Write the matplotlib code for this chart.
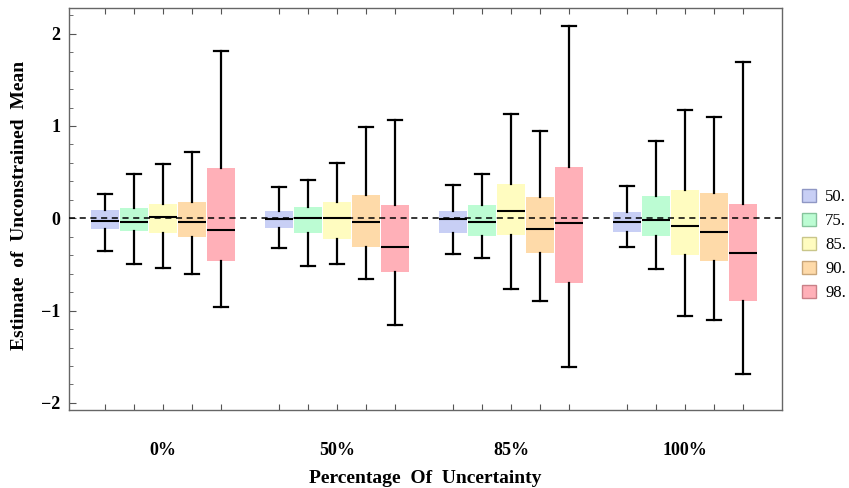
import matplotlib
matplotlib.use("Agg")
import matplotlib.pyplot as plt
from matplotlib.patches import Patch
from matplotlib.ticker import MultipleLocator
import matplotlib.transforms as mtransforms

groups = ["0%", "50%", "85%", "100%"]
series = ["50.", "75.", "85.", "90.", "98."]
colors = ["#c8cff5", "#bcfcd3", "#fffcc0", "#fedaa9", "#ffb0b8"]
edge_colors = ["#8f97c4", "#86c49c", "#c9c68a", "#c9a67a", "#c98088"]
y_ticks = [-2, -1, 0, 1, 2]
y_tick_labels = ["\u22122", "\u22121", "0", "1", "2"]

# [whisker_low, q1, median, q3, whisker_high] per group, per series
stats_0 = [[-0.35, -0.115, -0.03, 0.09, 0.26],
           [-0.50, -0.14, -0.04, 0.115, 0.48],
           [-0.54, -0.16, 0.015, 0.16, 0.59],
           [-0.60, -0.20, -0.04, 0.18, 0.72],
           [-0.96, -0.46, -0.13, 0.545, 1.81]]
stats_50 = [[-0.32, -0.10, -0.005, 0.08, 0.34],
            [-0.517, -0.156, 0.0, 0.12, 0.415],
            [-0.49, -0.22, 0.0, 0.177, 0.60],
            [-0.66, -0.314, -0.043, 0.25, 0.99],
            [-1.16, -0.58, -0.314, 0.144, 1.06]]
stats_85 = [[-0.387, -0.156, -0.008, 0.08, 0.36],
            [-0.427, -0.188, -0.037, 0.14, 0.483],
            [-0.766, -0.178, 0.076, 0.368, 1.127],
            [-0.90, -0.372, -0.116, 0.228, 0.946],
            [-1.61, -0.70, -0.054, 0.56, 2.087]]
stats_100 = [[-0.308, -0.152, -0.04, 0.072, 0.347],
             [-0.546, -0.192, -0.015, 0.242, 0.834],
             [-1.062, -0.398, -0.087, 0.307, 1.173],
             [-1.10, -0.459, -0.152, 0.271, 1.10],
             [-1.687, -0.893, -0.376, 0.152, 1.69]]
all_stats = [stats_0, stats_50, stats_85, stats_100]

serif = ["Liberation Serif", "DejaVu Serif"]
plt.rcParams["font.family"] = serif

fig = plt.figure(figsize=(8.49, 4.88), dpi=100)
ax = fig.add_axes([69 / 849, 1 - 410 / 488, (782 - 69) / 849, (410 - 8.3) / 488])

positions_all = []
for g, gstats in enumerate(all_stats):
    for i, (wl, q1, med, q3, wh) in enumerate(gstats):
        pos = g * 6 + i
        positions_all.append(pos)
        st = [dict(whislo=wl, q1=q1, med=med, q3=q3, whishi=wh, fliers=[])]
        ax.bxp(st, positions=[pos], widths=0.98, capwidths=0.5, patch_artist=True,
               showfliers=False,
               boxprops=dict(facecolor=colors[i], edgecolor="none", linewidth=0),
               medianprops=dict(color="black", linewidth=1.5),
               whiskerprops=dict(color="black", linewidth=1.6),
               capprops=dict(color="black", linewidth=1.6),
               zorder=2)

ax.axhline(0, color="black", linestyle=(0, (4, 3)), linewidth=1.1, zorder=3)

ax.set_xlim(-1.24, 23.34)
ax.set_ylim(-2.077, 2.275)

ax.set_xticks(positions_all)
ax.set_xticklabels([])
ax.tick_params(axis="x", which="both", direction="in", top=True, bottom=True,
               length=4, width=0.8, color="#555555")
ax.set_yticks(y_ticks)
ax.set_yticklabels(y_tick_labels, fontweight="bold", fontsize=13)
ax.yaxis.set_minor_locator(MultipleLocator(0.2))
ax.tick_params(axis="y", which="major", direction="in", left=True, right=False,
               length=5, width=0.8, color="#555555", pad=6)
ax.tick_params(axis="y", which="minor", direction="in", left=True, right=False,
               length=3, width=0.6, color="#555555")

for sp in ax.spines.values():
    sp.set_color("#666666")
    sp.set_linewidth(1.0)

trans = mtransforms.blended_transform_factory(ax.transData, ax.transAxes)
for g, name in enumerate(groups):
    ax.text(g * 6 + 2, -0.10, name, transform=trans, ha="center", va="center",
            fontsize=13, fontweight="bold")

ax.set_xlabel("Percentage  Of  Uncertainty", fontsize=14, fontweight="bold", labelpad=40)
ax.set_ylabel("Estimate  of  Unconstrained  Mean", fontsize=14, fontweight="bold")
ax.yaxis.set_label_coords(-0.057, 0.51)

handles = [Patch(facecolor=colors[i], edgecolor=edge_colors[i], linewidth=1.0)
           for i in range(len(series))]
fig.legend(handles, series, loc="center left", bbox_to_anchor=(795 / 849, 1 - 245 / 488),
           frameon=False, fontsize=12, handlelength=0.85, handleheight=0.85,
           handletextpad=0.55, labelspacing=0.45, borderaxespad=0)

fig.savefig("out.png", dpi=100)
